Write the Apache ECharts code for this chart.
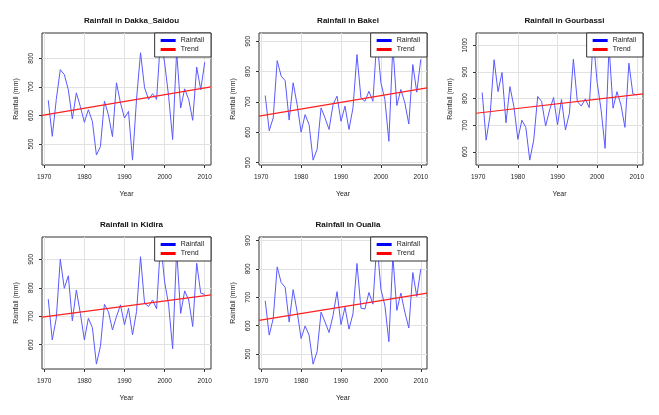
<!DOCTYPE html>
<html>
<head>
<meta charset="utf-8">
<script src="https://cdn.jsdelivr.net/npm/echarts@6/dist/echarts.min.js"></script>
<style>
  html, body { margin: 0; padding: 0; background: #fff; }
  #main { width: 659px; height: 415px; }
</style>
</head>
<body>
<div id="main"></div>
<script>
// 数据：1971-2010 年降雨量 (mm)
var years = [1971, 1972, 1973, 1974, 1975, 1976, 1977, 1978, 1979, 1980,
             1981, 1982, 1983, 1984, 1985, 1986, 1987, 1988, 1989, 1990,
             1991, 1992, 1993, 1994, 1995, 1996, 1997, 1998, 1999, 2000,
             2001, 2002, 2003, 2004, 2005, 2006, 2007, 2008, 2009, 2010];

var stations = ['Dakka_Saidou', 'Bakel', 'Gourbassi', 'Kidira', 'Oualia'];

var rainDakka = [653, 527, 656, 760, 743, 690, 588, 679, 631, 576,
                 620, 579, 462, 491, 650, 602, 526, 714, 644, 591,
                 614, 444, 656, 819, 697, 656, 676, 656, 871, 784,
                 667, 516, 824, 626, 693, 656, 583, 769, 690, 786];
var rainBakel = [721, 605, 647, 836, 785, 770, 640, 763, 691, 600,
                 658, 625, 508, 543, 680, 647, 609, 691, 719, 636,
                 686, 609, 680, 856, 713, 702, 735, 702, 911, 763,
                 708, 570, 884, 688, 741, 697, 627, 823, 732, 840];
var rainGourbassi = [823, 644, 738, 946, 826, 898, 709, 845, 770, 647,
                     719, 692, 569, 644, 808, 789, 697, 757, 804, 701,
                     797, 682, 745, 948, 789, 772, 799, 766, 1028, 860,
                     757, 613, 996, 764, 826, 776, 692, 933, 818, 814];
var rainKidira = [760, 617, 693, 900, 798, 842, 684, 792, 710, 617,
                  693, 660, 532, 594, 742, 716, 652, 699, 740, 670,
                  728, 635, 716, 909, 746, 734, 757, 726, 961, 821,
                  740, 586, 932, 710, 789, 757, 664, 886, 781, 777];
var rainOualia = [688, 567, 625, 807, 752, 735, 613, 727, 650, 555,
                  599, 567, 465, 509, 648, 613, 576, 636, 720, 604,
                  665, 588, 642, 819, 662, 659, 717, 676, 895, 729,
                  671, 544, 845, 654, 715, 648, 592, 787, 703, 799];

// 趋势线在图框左右两端的数值
var trendStart = [600, 653, 745, 697, 619];
var trendEnd   = [700, 746, 818, 775, 715];

// 刻度
var xTicks = [1970, 1980, 1990, 2000, 2010];
var yTicks = [
  [500, 600, 700, 800],
  [500, 600, 700, 800, 900],
  [600, 700, 800, 900, 1000],
  [600, 700, 800, 900],
  [500, 600, 700, 800, 900]
];

var rains = [rainDakka, rainBakel, rainGourbassi, rainKidira, rainOualia];

// 图框位置 (px)
var boxes = [
  {left: 42,  top: 33,  width: 169, height: 132},
  {left: 259, top: 33,  width: 168, height: 132},
  {left: 476, top: 33,  width: 167, height: 132},
  {left: 42,  top: 237, width: 169, height: 132},
  {left: 259, top: 237, width: 168, height: 132}
];

// R 风格：数据范围两端各扩展 4%
var xSpan = years[years.length - 1] - years[0];
var xMin = years[0] - 0.04 * xSpan;
var xMax = years[years.length - 1] + 0.04 * xSpan;
function padMin(v) { return v.min - 0.04 * (v.max - v.min); }
function padMax(v) { return v.max + 0.04 * (v.max - v.min); }
function plain(v) { return String(v); }

var font = 'Liberation Sans, Arial, sans-serif';
var W = 659;

var grid = [], xAxis = [], yAxis = [], series = [], title = [], legend = [];

stations.forEach(function (name, i) {
  var b = boxes[i];
  grid.push({
    left: b.left, top: b.top, width: b.width, height: b.height,
    show: true, borderColor: '#333', borderWidth: 1, backgroundColor: 'transparent'
  });
  title.push({
    text: 'Rainfall in ' + name,
    left: b.left + b.width / 2,
    top: b.top - 21,
    textAlign: 'center',
    textStyle: {fontFamily: font, fontSize: 8, fontWeight: 'bold', color: '#111'}
  });
  xAxis.push({
    type: 'value', gridIndex: i, min: xMin, max: xMax,
    name: 'Year', nameLocation: 'middle', nameGap: 26,
    nameTextStyle: {fontFamily: font, fontSize: 7, color: '#222'},
    axisLine: {show: false},
    axisTick: {show: true, length: 3, lineStyle: {color: '#333'}, customValues: xTicks},
    axisLabel: {fontFamily: font, fontSize: 6.5, color: '#222', margin: 9,
                customValues: xTicks, formatter: plain},
    splitLine: {show: true, lineStyle: {color: '#e2e2e2', width: 1}}
  });
  yAxis.push({
    type: 'value', gridIndex: i, min: padMin, max: padMax,
    name: 'Rainfall (mm)', nameLocation: 'middle', nameGap: 22, nameRotate: 90,
    nameTextStyle: {fontFamily: font, fontSize: 7, color: '#222'},
    axisLine: {show: false},
    axisTick: {show: true, length: 3, lineStyle: {color: '#333'}, customValues: yTicks[i]},
    axisLabel: {fontFamily: font, fontSize: 6.5, color: '#222', margin: 7, rotate: 90,
                customValues: yTicks[i], formatter: plain},
    splitLine: {show: true, lineStyle: {color: '#e2e2e2', width: 1}}
  });
  series.push({
    name: 'Rainfall', type: 'line', xAxisIndex: i, yAxisIndex: i,
    data: years.map(function (y, k) { return [y, rains[i][k]]; }),
    showSymbol: false, silent: true, animation: false,
    itemStyle: {color: '#0000ff'},
    lineStyle: {color: '#5a5aff', width: 1}
  });
  series.push({
    name: 'Trend', type: 'line', xAxisIndex: i, yAxisIndex: i,
    data: [[xMin, trendStart[i]], [xMax, trendEnd[i]]],
    showSymbol: false, silent: true, animation: false, z: 3,
    itemStyle: {color: '#ff0000'},
    lineStyle: {color: '#ff2020', width: 1.2}
  });
  legend.push({
    orient: 'vertical',
    right: W - (b.left + b.width),
    top: b.top,
    backgroundColor: '#fff',
    borderColor: '#333', borderWidth: 1, borderRadius: 0,
    padding: [4, 7, 4, 6],
    itemGap: 2, itemWidth: 15, itemHeight: 3,
    icon: 'rect',
    selectedMode: false,
    textStyle: {fontFamily: font, fontSize: 7, color: '#222', padding: [0, 0, 0, 0]},
    data: [
      {name: 'Rainfall', itemStyle: {color: '#0000ff'}},
      {name: 'Trend', itemStyle: {color: '#ff0000'}}
    ]
  });
});

var chart = echarts.init(document.getElementById('main'));
chart.setOption({
  animation: false,
  backgroundColor: '#fff',
  title: title,
  legend: legend,
  grid: grid,
  xAxis: xAxis,
  yAxis: yAxis,
  series: series
});
</script>
</body>
</html>
